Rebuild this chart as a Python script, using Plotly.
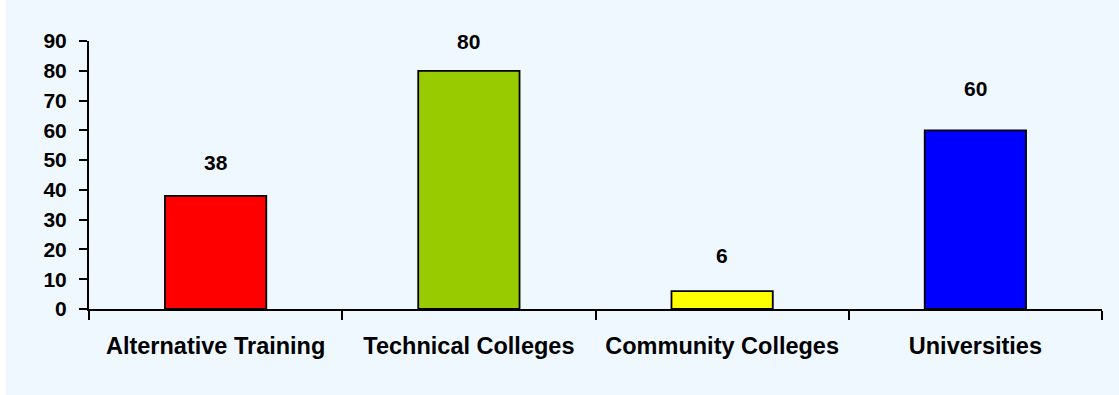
import plotly.graph_objects as go

# Enrolment by type of institution
categories = ["Alternative Training", "Technical Colleges", "Community Colleges", "Universities"]
values = [38, 80, 6, 60]
bar_colors = ["#FF0000", "#99CC00", "#FFFF00", "#0000FF"]
y_ticks = [0, 10, 20, 30, 40, 50, 60, 70, 80, 90]

# vertical gap (px) between each bar top and the centre of its value label
label_lift = [33, 29, 36, 42]

FONT = "Liberation Sans, Arial, sans-serif"

fig = go.Figure(
    go.Bar(
        x=categories,
        y=values,
        marker=dict(color=bar_colors, line=dict(color="#000000", width=1.8)),
        hoverinfo="x+y",
    )
)

for cat, val, lift in zip(categories, values, label_lift):
    fig.add_annotation(
        x=cat, y=val, text=str(val), showarrow=False,
        xref="x", yref="y", yanchor="middle", yshift=lift,
        font=dict(family=FONT, size=21, color="#000000", weight="bold"),
    )

# light blue chart panel behind everything
fig.add_shape(
    type="rect", xref="paper", yref="paper", layer="below",
    x0=-83 / 1013, x1=1.02, y0=-0.35, y1=1.2,
    fillcolor="#F0F8FF", line=dict(width=0),
)

fig.update_layout(
    width=1119, height=395,
    margin=dict(l=89, r=17, t=41, b=86),
    paper_bgcolor="#FFFFFF",
    plot_bgcolor="#F0F8FF",
    bargap=0.6,
    showlegend=False,
    font=dict(family=FONT, color="#000000"),
)

fig.update_xaxes(
    type="category",
    range=[-0.5, 3.5],
    tickson="boundaries",
    ticks="outside", ticklen=9, tickwidth=1.5, tickcolor="#000000",
    showline=True, linecolor="#000000", linewidth=2,
    showgrid=False, zeroline=False,
    tickfont=dict(family=FONT, size=23.5, color="#000000", weight="bold"),
    ticklabelstandoff=15,
)

fig.update_yaxes(
    range=[0, 90],
    tickvals=y_ticks,
    ticks="outside", ticklen=8, tickwidth=1.5, tickcolor="#000000",
    showline=True, linecolor="#000000", linewidth=2,
    showgrid=False, zeroline=False,
    tickfont=dict(family=FONT, size=21, color="#000000", weight="bold"),
    ticklabelstandoff=8,
)

fig.write_html("out.html")
